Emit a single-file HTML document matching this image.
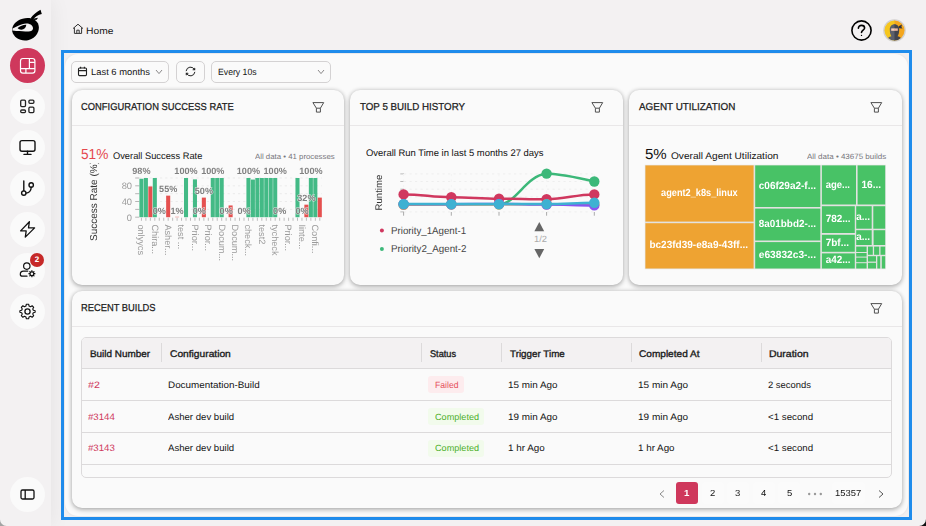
<!DOCTYPE html>
<html>
<head>
<meta charset="utf-8">
<title>Home</title>
<style>
*{box-sizing:border-box;margin:0;padding:0}
html,body{width:926px;height:526px;overflow:hidden}
body{font-family:"Liberation Sans",sans-serif;background:#f3f1f2;color:#222;position:relative;font-size:10px;text-rendering:geometricPrecision}
.abs{position:absolute}
#side{position:absolute;left:0;top:0;width:51px;height:526px;background:#f3f1f2;box-shadow:0 0 22px rgba(0,0,0,.065)}
.nav{position:absolute;left:10px;width:35px;height:35px;border-radius:50%;background:#fafafa}
.nav svg{position:absolute;left:0;top:0}
.nav.act{background:#cf385c}
#frame{position:absolute;left:61px;top:50px;width:851px;height:470px;border:3px solid #1f8cec;background:#f1eff0}
#panel{position:absolute;left:1px;top:1px;width:843px;height:462px;border-radius:13px;background:#fafafa;box-shadow:0 0 3px rgba(0,0,0,.07)}
.card{position:absolute;background:#fafafa;border-radius:10px;box-shadow:0 2px 5px rgba(0,0,0,.24),0 0 4px rgba(0,0,0,.17)}
.cdiv{position:absolute;left:0;right:0;top:35px;height:1px;background:#e9e7e8}
.filt{position:absolute;width:13px;height:13px}
.btn{position:absolute;top:61px;height:22px;border:1px solid #d4d2d3;border-radius:5px;background:#fafafa}
.t{position:absolute;white-space:pre;line-height:12px;height:12px;transform-origin:0 0}
.sep{position:absolute;top:343px;width:1px;height:19px;background:#dcdadb}
.hr{position:absolute;left:82px;width:809px;height:1px;background:#dcdadb}
.badge{position:absolute;border-radius:3px}
.pg{position:absolute;top:482px;width:22px;height:22px;border-radius:3px;background:#fbfbfb}
#ov{position:absolute;left:0;top:0;will-change:transform}
#ov text{font-family:"Liberation Sans",sans-serif}
</style>
</head>
<body>
<div id="side"></div>

<svg class="abs" style="left:8px;top:6px" width="38" height="38" viewBox="0 0 38 38">
  <g fill="#000">
    <path d="M22.4 12.6 C25.2 8.6 28.6 5.8 32.5 3.8 L33.8 8.1 C30 9 27.4 10.8 25.2 13.4 Z"/>
    <path d="M25 12.8 L30 11.7 L28.7 13.7 L25.6 13.9 Z"/>
    <path d="M4.3 25.6 C3.2 19.8 7.6 14.6 14.6 12.7 C21.8 10.8 28.8 13.2 30.5 18.9 C32.2 24.8 28 32 20.8 34 C13.4 36 5.6 32 4.3 25.6 Z"/>
  </g>
  <path d="M4.6 22.6 L9.8 19.9 C11.4 19.1 12.8 18.6 14.1 18.2 C15.6 17.7 17 17.4 18.4 17.4 C20.2 17.4 21.6 17.8 22.7 18.5 C24 19.4 24.8 20.6 25 22 C25.1 23.2 24.6 24.2 23.6 24.8 C22.6 25.4 21.4 25.6 19.6 25.5 C17 25.3 11 24.8 8.1 24.9 C6.8 24.9 5.8 24.8 4.4 24.6 Z" fill="#f4f2f3"/>
  <path d="M9.6 22 C11.2 20.6 12.6 19.9 14.1 19.4 C15.6 18.9 16.9 18.7 18.3 18.8 C18.1 20.4 17.6 21.5 16.8 22.3 C15.9 23.1 14.7 23.6 13.3 23.7 C11.8 23.6 10.5 23 9.6 22 Z" fill="#000"/>
</svg>

<div class="nav act" style="top:48px">
  <svg width="35" height="35" viewBox="0 0 35 35" fill="none" stroke="#fff" stroke-width="1.2">
    <rect x="10.5" y="10.5" width="14.4" height="14.6" rx="2.4"/>
    <path d="M19.4 10.5V20.6M10.5 20.6H24.9M15.9 20.6V25.1M19.4 14.3H24.9"/>
  </svg>
</div>
<div class="nav" style="top:89px">
  <svg width="35" height="35" viewBox="0 0 35 35" fill="none" stroke="#222" stroke-width="1.3">
    <rect x="10.7" y="11.2" width="4.8" height="6.4" rx="1.1"/>
    <rect x="18.9" y="11.2" width="5" height="3.2" rx="1.1"/>
    <rect x="10.7" y="21" width="4.8" height="2.6" rx="1.1"/>
    <rect x="18.9" y="18.2" width="5" height="5.4" rx="1.1"/>
  </svg>
</div>
<div class="nav" style="top:130px">
  <svg width="35" height="35" viewBox="0 0 35 35" fill="none" stroke="#111" stroke-width="1.4" stroke-linecap="round">
    <rect x="10" y="10.6" width="15" height="10.6" rx="2"/>
    <path d="M17.5 21.2V24.2M14 24.4H21"/>
  </svg>
</div>
<div class="nav" style="top:171px">
  <svg width="35" height="35" viewBox="0 0 35 35" fill="none" stroke="#111" stroke-width="1.4" stroke-linecap="round">
    <path d="M13.8 10V19.8"/>
    <circle cx="13.8" cy="22.1" r="2.2"/>
    <circle cx="21.2" cy="14" r="2.2"/>
    <path d="M21.2 16.3C21.2 19.9 18.6 21.9 16.1 22.1"/>
  </svg>
</div>
<div class="nav" style="top:212px">
  <svg width="35" height="35" viewBox="0 0 35 35" fill="none" stroke="#111" stroke-width="1.3" stroke-linejoin="round">
    <path d="M19.4 9.7L10.6 18.9H16.2L15.3 25.1L24.6 15.9H18.5Z"/>
  </svg>
</div>
<div class="nav" style="top:253px">
  <svg width="35" height="35" viewBox="0 0 35 35" fill="none" stroke="#111" stroke-width="1.2" stroke-linecap="round">
    <circle cx="16.8" cy="13.1" r="3.2"/>
    <path d="M17 23.2H12.4C11 23.2 10.3 22.4 10.3 21.2C10.3 19.4 11.6 18.1 13.4 18.1H17.8"/>
    <circle cx="21.9" cy="20.7" r="1.9"/>
    <path d="M21.9 17.7V18.5M21.9 22.9V23.7M18.9 20.7H19.7M24.1 20.7H24.9M19.8 18.6L20.3 19.1M23.5 22.3L24 22.8M19.8 22.8L20.3 22.3M23.5 19.1L24 18.6" stroke-width="1.2"/>
  </svg>
  <div class="abs" style="left:20px;top:0px;width:14px;height:14px;border-radius:50%;background:#c62828;color:#fff;font-size:8px;font-weight:bold;text-align:center;line-height:14px">2</div>
</div>
<div class="nav" style="top:294px">
  <svg width="35" height="35" viewBox="0 0 35 35" fill="none" stroke="#111" stroke-width="1.3" stroke-linejoin="round">
    <circle cx="17.5" cy="17.5" r="2.6"/>
    <path d="M16.2 10H18.8L19.3 12.1L21 12.9L22.9 11.8L24.7 13.6L23.6 15.5L24.3 17.1L26.4 17.6V19.4L24.3 19.9L23.6 21.5L24.7 23.4L22.9 25.2L21 24.1L19.3 24.9L18.8 27H16.2L15.7 24.9L14 24.1L12.1 25.2L10.3 23.4L11.4 21.5L10.7 19.9L8.6 19.4V17.6L10.7 17.1L11.4 15.5L10.3 13.6L12.1 11.8L14 12.9L15.7 12.1Z" transform="translate(17.5 17.5) scale(.86) translate(-17.5 -18.5)"/>
  </svg>
</div>
<div class="nav" style="top:477px">
  <svg width="35" height="35" viewBox="0 0 35 35" fill="none" stroke="#111" stroke-width="1.3">
    <rect x="11" y="13" width="13" height="9" rx="1.5"/>
    <path d="M15.2 13V22"/>
  </svg>
</div>

<svg class="abs" style="left:72px;top:23px" width="12" height="12" viewBox="0 0 12 12" fill="none" stroke="#333" stroke-width="1">
  <path d="M1 5.6L6 1.2L11 5.6M2.4 4.6V10.4H9.6V4.6M4.8 10.4V7.2H7.2V10.4"/>
</svg>

<div class="t" style="left:85.77px;top:25px;font-size:9.3px;color:#141414;transform:scaleX(1.1066);">Home</div>

<svg class="abs" style="left:850px;top:19px" width="23" height="23" viewBox="0 0 23 23" fill="none" stroke="#000" stroke-width="1.6" stroke-linecap="round">
  <circle cx="11.5" cy="11.5" r="9.6"/>
  <path d="M8.4 9.2C8.4 7.4 9.8 6.4 11.5 6.4C13.2 6.4 14.6 7.4 14.6 9C14.6 11 11.5 11.2 11.5 13.4"/>
  <circle cx="11.5" cy="16.4" r=".7" fill="#000" stroke="none"/>
</svg>
<svg class="abs" style="left:883px;top:19px" width="23" height="23" viewBox="0 0 23 23">
  <defs><clipPath id="av"><circle cx="11.5" cy="11.5" r="10"/></clipPath></defs>
  <circle cx="11.5" cy="11.5" r="11.3" fill="#d2d0cf"/>
  <g clip-path="url(#av)">
    <rect x="0" y="0" width="12" height="23" fill="#f6c61d"/>
    <rect x="11.5" y="0" width="11.5" height="23" fill="#f4a61d"/>
    <path d="M6.8 10.4C6.8 7.4 8.8 5.2 11.5 5.2H12V23H3.8C3.8 19.6 5.6 17.8 8.4 17.2C7.2 15.4 6.8 13 6.8 10.4Z" fill="#5b5f6b"/>
    <path d="M16.2 10.4C16.2 7.4 14.2 5.2 11.5 5.2V23H19.2C19.2 19.6 17.4 17.8 14.6 17.2C15.8 15.4 16.2 13 16.2 10.4Z" fill="#41444e"/>
    <path d="M15.6 7.2L19 5.6L18.4 8L19.6 9.6L16 9.2Z" fill="#33353d"/>
    <rect x="8.2" y="9.4" width="3.6" height="2.4" fill="#f9cdb5"/>
    <rect x="11.5" y="9.4" width="3.3" height="2.4" fill="#f2b9a0"/>
  </g>
</svg>

<div id="frame"><div id="panel"></div></div>

<div class="btn" style="left:71px;width:98px"></div>
<svg class="abs" style="left:77px;top:66px" width="11" height="11" viewBox="0 0 11 11" fill="none" stroke="#222" stroke-width="1.1">
  <rect x="1.5" y="2" width="8" height="7.6" rx="1"/><path d="M1.5 4.6H9.5M3.6 .8V2.6M7.4 .8V2.6"/>
</svg>
<div class="t" style="left:91.29px;top:66px;font-size:9.1px;color:#141414;transform:scaleX(1.0319);">Last 6 months</div>
<svg class="abs" style="left:155px;top:69px" width="8" height="6" viewBox="0 0 8 6" fill="none" stroke="#8a8889" stroke-width="1"><path d="M1 1L4 4.6L7 1"/></svg>
<div class="btn" style="left:176px;width:29px"></div>
<svg class="abs" style="left:184.1px;top:65.2px" width="13" height="13" viewBox="0 0 13 13" fill="none" stroke="#222" stroke-width="1" stroke-linecap="round">
  <path d="M2.17 5.74A4.4 4.4 0 0 1 10.49 4.64M10.83 7.26A4.4 4.4 0 0 1 2.51 8.36"/>
  <path d="M10.7 3.2V4.8H9.1M2.3 9.8V8.2H3.9" stroke-width="1.1"/>
</svg>
<div class="btn" style="left:211px;width:120px"></div>
<div class="t" style="left:218.31px;top:66px;font-size:9.1px;color:#141414;transform:scaleX(0.9554);">Every 10s</div>
<svg class="abs" style="left:317px;top:69px" width="8" height="6" viewBox="0 0 8 6" fill="none" stroke="#8a8889" stroke-width="1"><path d="M1 1L4 4.6L7 1"/></svg>
<div class="card" style="left:72px;top:90px;width:272px;height:195px"><div class="cdiv"></div></div>
<div class="card" style="left:350px;top:90px;width:273px;height:195px"><div class="cdiv"></div></div>
<div class="card" style="left:629px;top:90px;width:273px;height:195px"><div class="cdiv"></div></div>
<div class="card" style="left:72px;top:291px;width:830px;height:217px"><div class="cdiv"></div></div>
<div class="t" style="left:80.72px;top:102px;font-size:10.05px;color:#1c1c1c;transform:scaleX(0.9327);-webkit-text-stroke:.25px #1c1c1c;">CONFIGURATION SUCCESS RATE</div>
<div class="t" style="left:359.71px;top:102px;font-size:10.05px;color:#1c1c1c;transform:scaleX(0.9711);-webkit-text-stroke:.25px #1c1c1c;">TOP 5 BUILD HISTORY</div>
<div class="t" style="left:639.10px;top:102px;font-size:10.05px;color:#1c1c1c;transform:scaleX(0.9846);-webkit-text-stroke:.25px #1c1c1c;">AGENT UTILIZATION</div>
<div class="t" style="left:81.02px;top:303px;font-size:10.05px;color:#1c1c1c;transform:scaleX(0.9295);-webkit-text-stroke:.25px #1c1c1c;">RECENT BUILDS</div>
<svg class="filt" style="left:312.4px;top:101px" viewBox="0 0 13 13" fill="none" stroke="#505050" stroke-width="1" stroke-linejoin="round"><path d="M.9 1.6H11.7L8.4 7.2V11.1H4.4V7.2ZM4.4 7.2H8.4"/></svg>
<svg class="filt" style="left:591px;top:101px" viewBox="0 0 13 13" fill="none" stroke="#505050" stroke-width="1" stroke-linejoin="round"><path d="M.9 1.6H11.7L8.4 7.2V11.1H4.4V7.2ZM4.4 7.2H8.4"/></svg>
<svg class="filt" style="left:870px;top:101px" viewBox="0 0 13 13" fill="none" stroke="#505050" stroke-width="1" stroke-linejoin="round"><path d="M.9 1.6H11.7L8.4 7.2V11.1H4.4V7.2ZM4.4 7.2H8.4"/></svg>
<svg class="filt" style="left:870px;top:302px" viewBox="0 0 13 13" fill="none" stroke="#505050" stroke-width="1" stroke-linejoin="round"><path d="M.9 1.6H11.7L8.4 7.2V11.1H4.4V7.2ZM4.4 7.2H8.4"/></svg>
<div class="t" style="left:81.09px;top:149px;font-size:14.6px;color:#e5484d;transform:scaleX(0.9343);">51%</div>
<div class="t" style="left:113.31px;top:151px;font-size:9.5px;color:#141414;transform:scaleX(0.9779);">Overall Success Rate</div>
<div class="t" style="left:254.59px;top:151px;font-size:7.6px;color:#77767c;transform:scaleX(1.0301);">All data • 41 processes</div>
<div class="t" style="left:366.10px;top:148px;font-size:9.5px;color:#111;transform:scaleX(0.9944);">Overall Run Time in last 5 months 27 days</div>
<div class="t" style="left:390.94px;top:226px;font-size:10px;color:#444;transform:scaleX(0.9721);">Priority_1Agent-1</div>
<div class="t" style="left:390.93px;top:244px;font-size:10px;color:#444;transform:scaleX(0.9775);">Priority2_Agent-2</div>
<div class="t" style="left:533.79px;top:233px;font-size:9px;color:#aaa;transform:scaleX(1.0439);">1/2</div>
<div class="t" style="left:644.96px;top:149px;font-size:14.6px;color:#111;transform:scaleX(1.0309);">5%</div>
<div class="t" style="left:671.28px;top:151px;font-size:9.5px;color:#141414;transform:scaleX(1.0647);">Overall Agent Utilization</div>
<div class="t" style="left:806.58px;top:151px;font-size:7.6px;color:#77767c;transform:scaleX(1.0524);">All data • 43675 builds</div>
<svg id="ov" width="926" height="526" viewBox="0 0 926 526"><path d="M139.2 209.4H322.0" stroke="#ebebeb" stroke-width="1" stroke-dasharray="2.2 3"/>
<path d="M139.2 201.5H322.0" stroke="#ebebeb" stroke-width="1" stroke-dasharray="2.2 3"/>
<path d="M139.2 193.7H322.0" stroke="#ebebeb" stroke-width="1" stroke-dasharray="2.2 3"/>
<path d="M139.2 185.8H322.0" stroke="#ebebeb" stroke-width="1" stroke-dasharray="2.2 3"/>
<path d="M139.2 178.0H322.0" stroke="#ebebeb" stroke-width="1" stroke-dasharray="2.2 3"/>
<path d="M135.2 217.2H139.2" stroke="#b5b5b5" stroke-width="1"/>
<path d="M135.2 209.4H139.2" stroke="#b5b5b5" stroke-width="1"/>
<path d="M135.2 201.5H139.2" stroke="#b5b5b5" stroke-width="1"/>
<path d="M135.2 193.7H139.2" stroke="#b5b5b5" stroke-width="1"/>
<path d="M135.2 185.8H139.2" stroke="#b5b5b5" stroke-width="1"/>
<path d="M135.2 178.0H139.2" stroke="#b5b5b5" stroke-width="1"/>
<text x="132" y="220.5" text-anchor="end" font-size="9.3" fill="#9a9a9a">0</text>
<text x="132" y="204.8" text-anchor="end" font-size="9.3" fill="#9a9a9a">40</text>
<text x="132" y="189.1" text-anchor="end" font-size="9.3" fill="#9a9a9a">80</text>
<path d="M141.43 217.7V220.79999999999998" stroke="#bdbdbd" stroke-width="1"/>
<path d="M145.89 217.7V220.79999999999998" stroke="#bdbdbd" stroke-width="1"/>
<path d="M150.35 217.7V220.79999999999998" stroke="#bdbdbd" stroke-width="1"/>
<path d="M154.81 217.7V220.79999999999998" stroke="#bdbdbd" stroke-width="1"/>
<path d="M159.27 217.7V220.79999999999998" stroke="#bdbdbd" stroke-width="1"/>
<path d="M163.72 217.7V220.79999999999998" stroke="#bdbdbd" stroke-width="1"/>
<path d="M168.18 217.7V220.79999999999998" stroke="#bdbdbd" stroke-width="1"/>
<path d="M172.64 217.7V220.79999999999998" stroke="#bdbdbd" stroke-width="1"/>
<path d="M177.10 217.7V220.79999999999998" stroke="#bdbdbd" stroke-width="1"/>
<path d="M181.56 217.7V220.79999999999998" stroke="#bdbdbd" stroke-width="1"/>
<path d="M186.02 217.7V220.79999999999998" stroke="#bdbdbd" stroke-width="1"/>
<path d="M190.48 217.7V220.79999999999998" stroke="#bdbdbd" stroke-width="1"/>
<path d="M194.94 217.7V220.79999999999998" stroke="#bdbdbd" stroke-width="1"/>
<path d="M199.40 217.7V220.79999999999998" stroke="#bdbdbd" stroke-width="1"/>
<path d="M203.86 217.7V220.79999999999998" stroke="#bdbdbd" stroke-width="1"/>
<path d="M208.31 217.7V220.79999999999998" stroke="#bdbdbd" stroke-width="1"/>
<path d="M212.77 217.7V220.79999999999998" stroke="#bdbdbd" stroke-width="1"/>
<path d="M217.23 217.7V220.79999999999998" stroke="#bdbdbd" stroke-width="1"/>
<path d="M221.69 217.7V220.79999999999998" stroke="#bdbdbd" stroke-width="1"/>
<path d="M226.15 217.7V220.79999999999998" stroke="#bdbdbd" stroke-width="1"/>
<path d="M230.61 217.7V220.79999999999998" stroke="#bdbdbd" stroke-width="1"/>
<path d="M235.07 217.7V220.79999999999998" stroke="#bdbdbd" stroke-width="1"/>
<path d="M239.53 217.7V220.79999999999998" stroke="#bdbdbd" stroke-width="1"/>
<path d="M243.99 217.7V220.79999999999998" stroke="#bdbdbd" stroke-width="1"/>
<path d="M248.45 217.7V220.79999999999998" stroke="#bdbdbd" stroke-width="1"/>
<path d="M252.90 217.7V220.79999999999998" stroke="#bdbdbd" stroke-width="1"/>
<path d="M257.36 217.7V220.79999999999998" stroke="#bdbdbd" stroke-width="1"/>
<path d="M261.82 217.7V220.79999999999998" stroke="#bdbdbd" stroke-width="1"/>
<path d="M266.28 217.7V220.79999999999998" stroke="#bdbdbd" stroke-width="1"/>
<path d="M270.74 217.7V220.79999999999998" stroke="#bdbdbd" stroke-width="1"/>
<path d="M275.20 217.7V220.79999999999998" stroke="#bdbdbd" stroke-width="1"/>
<path d="M279.66 217.7V220.79999999999998" stroke="#bdbdbd" stroke-width="1"/>
<path d="M284.12 217.7V220.79999999999998" stroke="#bdbdbd" stroke-width="1"/>
<path d="M288.58 217.7V220.79999999999998" stroke="#bdbdbd" stroke-width="1"/>
<path d="M293.04 217.7V220.79999999999998" stroke="#bdbdbd" stroke-width="1"/>
<path d="M297.49 217.7V220.79999999999998" stroke="#bdbdbd" stroke-width="1"/>
<path d="M301.95 217.7V220.79999999999998" stroke="#bdbdbd" stroke-width="1"/>
<path d="M306.41 217.7V220.79999999999998" stroke="#bdbdbd" stroke-width="1"/>
<path d="M310.87 217.7V220.79999999999998" stroke="#bdbdbd" stroke-width="1"/>
<path d="M315.33 217.7V220.79999999999998" stroke="#bdbdbd" stroke-width="1"/>
<path d="M319.79 217.7V220.79999999999998" stroke="#bdbdbd" stroke-width="1"/>
<rect x="139.40" y="178.78" width="4.06" height="38.42" fill="#43ba86"/>
<rect x="143.86" y="178.00" width="4.06" height="39.20" fill="#43ba86"/>
<rect x="148.32" y="186.43" width="4.06" height="30.77" fill="#e5504f"/>
<rect x="152.78" y="178.00" width="4.06" height="39.20" fill="#43ba86"/>
<rect x="166.15" y="195.64" width="4.06" height="21.56" fill="#e5504f"/>
<rect x="175.07" y="216.81" width="4.06" height="0.39" fill="#e5504f"/>
<rect x="183.99" y="178.00" width="4.06" height="39.20" fill="#43ba86"/>
<rect x="192.91" y="179.37" width="4.06" height="37.83" fill="#43ba86"/>
<rect x="201.83" y="197.60" width="4.06" height="19.60" fill="#e5504f"/>
<rect x="210.74" y="178.00" width="4.06" height="39.20" fill="#43ba86"/>
<rect x="215.20" y="178.00" width="4.06" height="39.20" fill="#43ba86"/>
<rect x="219.66" y="178.00" width="4.06" height="39.20" fill="#43ba86"/>
<rect x="228.58" y="205.44" width="4.06" height="11.76" fill="#e5504f"/>
<rect x="246.42" y="178.00" width="4.06" height="39.20" fill="#43ba86"/>
<rect x="250.87" y="179.57" width="4.06" height="37.63" fill="#43ba86"/>
<rect x="255.33" y="178.00" width="4.06" height="39.20" fill="#43ba86"/>
<rect x="259.79" y="178.00" width="4.06" height="39.20" fill="#43ba86"/>
<rect x="264.25" y="178.00" width="4.06" height="39.20" fill="#43ba86"/>
<rect x="268.71" y="178.00" width="4.06" height="39.20" fill="#43ba86"/>
<rect x="273.17" y="178.00" width="4.06" height="39.20" fill="#43ba86"/>
<rect x="295.46" y="178.00" width="4.06" height="39.20" fill="#43ba86"/>
<rect x="304.38" y="204.66" width="4.06" height="12.54" fill="#e5504f"/>
<rect x="308.84" y="178.00" width="4.06" height="39.20" fill="#43ba86"/>
<rect x="313.30" y="178.00" width="4.06" height="39.20" fill="#43ba86"/>
<rect x="317.76" y="197.60" width="4.06" height="19.60" fill="#e5504f"/>
<text x="141.4" y="174.4" text-anchor="middle" font-size="9.1" font-weight="bold" fill="#808080" stroke="#fafafa" stroke-width="1" paint-order="stroke" stroke-opacity=".75">98%</text>
<text x="159.3" y="213.6" text-anchor="middle" font-size="9.1" font-weight="bold" fill="#808080" stroke="#fafafa" stroke-width="1" paint-order="stroke" stroke-opacity=".75">0%</text>
<text x="168.2" y="192.0" text-anchor="middle" font-size="9.1" font-weight="bold" fill="#808080" stroke="#fafafa" stroke-width="1" paint-order="stroke" stroke-opacity=".75">55%</text>
<text x="177.1" y="213.6" text-anchor="middle" font-size="9.1" font-weight="bold" fill="#808080" stroke="#fafafa" stroke-width="1" paint-order="stroke" stroke-opacity=".75">1%</text>
<text x="186.0" y="174.4" text-anchor="middle" font-size="9.1" font-weight="bold" fill="#808080" stroke="#fafafa" stroke-width="1" paint-order="stroke" stroke-opacity=".75">100%</text>
<text x="199.4" y="213.6" text-anchor="middle" font-size="9.1" font-weight="bold" fill="#808080" stroke="#fafafa" stroke-width="1" paint-order="stroke" stroke-opacity=".75">0%</text>
<text x="203.9" y="194.0" text-anchor="middle" font-size="9.1" font-weight="bold" fill="#808080" stroke="#fafafa" stroke-width="1" paint-order="stroke" stroke-opacity=".75">50%</text>
<text x="212.8" y="174.4" text-anchor="middle" font-size="9.1" font-weight="bold" fill="#808080" stroke="#fafafa" stroke-width="1" paint-order="stroke" stroke-opacity=".75">100%</text>
<text x="226.2" y="213.6" text-anchor="middle" font-size="9.1" font-weight="bold" fill="#808080" stroke="#fafafa" stroke-width="1" paint-order="stroke" stroke-opacity=".75">0%</text>
<text x="244.0" y="213.6" text-anchor="middle" font-size="9.1" font-weight="bold" fill="#808080" stroke="#fafafa" stroke-width="1" paint-order="stroke" stroke-opacity=".75">0%</text>
<text x="248.4" y="174.4" text-anchor="middle" font-size="9.1" font-weight="bold" fill="#808080" stroke="#fafafa" stroke-width="1" paint-order="stroke" stroke-opacity=".75">100%</text>
<text x="275.2" y="174.4" text-anchor="middle" font-size="9.1" font-weight="bold" fill="#808080" stroke="#fafafa" stroke-width="1" paint-order="stroke" stroke-opacity=".75">100%</text>
<text x="279.7" y="213.6" text-anchor="middle" font-size="9.1" font-weight="bold" fill="#808080" stroke="#fafafa" stroke-width="1" paint-order="stroke" stroke-opacity=".75">0%</text>
<text x="302.0" y="213.6" text-anchor="middle" font-size="9.1" font-weight="bold" fill="#808080" stroke="#fafafa" stroke-width="1" paint-order="stroke" stroke-opacity=".75">0%</text>
<text x="306.4" y="201.1" text-anchor="middle" font-size="9.1" font-weight="bold" fill="#808080" stroke="#fafafa" stroke-width="1" paint-order="stroke" stroke-opacity=".75">32%</text>
<text x="310.9" y="174.4" text-anchor="middle" font-size="9.1" font-weight="bold" fill="#808080" stroke="#fafafa" stroke-width="1" paint-order="stroke" stroke-opacity=".75">100%</text>
<text transform="translate(138.2 224.4) rotate(90)" font-size="9.2" fill="#9a9a9a">onlyycs</text>
<text transform="translate(151.6 224.4) rotate(90)" font-size="9.2" fill="#9a9a9a">Chira...</text>
<text transform="translate(165.0 224.4) rotate(90)" font-size="9.2" fill="#9a9a9a">Asher...</text>
<text transform="translate(178.4 224.4) rotate(90)" font-size="9.2" fill="#9a9a9a">test ...</text>
<text transform="translate(191.7 224.4) rotate(90)" font-size="9.2" fill="#9a9a9a">Prior...</text>
<text transform="translate(205.1 224.4) rotate(90)" font-size="9.2" fill="#9a9a9a">Prior...</text>
<text transform="translate(218.5 224.4) rotate(90)" font-size="9.2" fill="#9a9a9a">Docum...</text>
<text transform="translate(231.9 224.4) rotate(90)" font-size="9.2" fill="#9a9a9a">Docum...</text>
<text transform="translate(245.2 224.4) rotate(90)" font-size="9.2" fill="#9a9a9a">check...</text>
<text transform="translate(258.6 224.4) rotate(90)" font-size="9.2" fill="#9a9a9a">test2</text>
<text transform="translate(272.0 224.4) rotate(90)" font-size="9.2" fill="#9a9a9a">tycheck</text>
<text transform="translate(285.4 224.4) rotate(90)" font-size="9.2" fill="#9a9a9a">Prior...</text>
<text transform="translate(298.8 224.4) rotate(90)" font-size="9.2" fill="#9a9a9a">Iinte...</text>
<text transform="translate(312.1 224.4) rotate(90)" font-size="9.2" fill="#9a9a9a">Confi...</text>
<defs><clipPath id="cl1"><rect x="80" y="163.3" width="260" height="110"/></clipPath></defs><g clip-path="url(#cl1)"><text transform="translate(96.6 201) rotate(-90)" text-anchor="middle" font-size="10" fill="#333">Success Rate (%)</text></g>
<path d="M404 173.9H596" stroke="#eeeeee" stroke-width="1" stroke-dasharray="2.2 3.3"/>
<path d="M400.3 173.9H404" stroke="#bbb" stroke-width="1"/>
<path d="M404 181.5H596" stroke="#eeeeee" stroke-width="1" stroke-dasharray="2.2 3.3"/>
<path d="M400.3 181.5H404" stroke="#bbb" stroke-width="1"/>
<path d="M404 189.2H596" stroke="#eeeeee" stroke-width="1" stroke-dasharray="2.2 3.3"/>
<path d="M400.3 189.2H404" stroke="#bbb" stroke-width="1"/>
<path d="M404 196.9H596" stroke="#eeeeee" stroke-width="1" stroke-dasharray="2.2 3.3"/>
<path d="M400.3 196.9H404" stroke="#bbb" stroke-width="1"/>
<path d="M404 204.5H596" stroke="#eeeeee" stroke-width="1" stroke-dasharray="2.2 3.3"/>
<path d="M400.3 204.5H404" stroke="#bbb" stroke-width="1"/>
<path d="M404 211.9H596" stroke="#eeeeee" stroke-width="1" stroke-dasharray="2.2 3.3"/>
<path d="M400.3 211.9H404" stroke="#bbb" stroke-width="1"/>
<path d="M403.6 174V212" stroke="#f3f3f3" stroke-width="1" stroke-dasharray="2.2 3.3"/>
<path d="M403.6 212V215.7" stroke="#aaa" stroke-width="1"/>
<path d="M451.3 174V212" stroke="#f3f3f3" stroke-width="1" stroke-dasharray="2.2 3.3"/>
<path d="M451.3 212V215.7" stroke="#aaa" stroke-width="1"/>
<path d="M499.0 174V212" stroke="#f3f3f3" stroke-width="1" stroke-dasharray="2.2 3.3"/>
<path d="M499.0 212V215.7" stroke="#aaa" stroke-width="1"/>
<path d="M546.6 174V212" stroke="#f3f3f3" stroke-width="1" stroke-dasharray="2.2 3.3"/>
<path d="M546.6 212V215.7" stroke="#aaa" stroke-width="1"/>
<path d="M594.3 174V212" stroke="#f3f3f3" stroke-width="1" stroke-dasharray="2.2 3.3"/>
<path d="M594.3 212V215.7" stroke="#aaa" stroke-width="1"/>
<path d="M403.6 204.2L499.0 204.2C516.0 204.2 525.6 176 546.6 173.6C561.6 174.2 577.3 177.6 594.3 181.5" fill="none" stroke="#3cb879" stroke-width="2.5" stroke-linecap="round"/>
<circle cx="403.6" cy="204.2" r="5.2" fill="#3cb879"/>
<circle cx="451.3" cy="204.2" r="5.2" fill="#3cb879"/>
<circle cx="499.0" cy="204.2" r="5.2" fill="#3cb879"/>
<circle cx="546.6" cy="173.6" r="5.2" fill="#3cb879"/>
<circle cx="594.3" cy="181.5" r="5.2" fill="#3cb879"/>
<path d="M403.6 194.4C423.6 194.4 431.3 197.3 451.3 197.3C471.3 197.3 479.0 198.7 499.0 198.7C519.0 198.7 526.6 199.3 546.6 199.3C566.6 199.3 574.3 194.4 594.3 194.4" fill="none" stroke="#d0385f" stroke-width="2.5" stroke-linecap="round"/>
<circle cx="403.6" cy="194.4" r="5.2" fill="#d0385f"/>
<circle cx="451.3" cy="197.3" r="5.2" fill="#d0385f"/>
<circle cx="499.0" cy="198.7" r="5.2" fill="#d0385f"/>
<circle cx="546.6" cy="199.3" r="5.2" fill="#d0385f"/>
<circle cx="594.3" cy="194.4" r="5.2" fill="#d0385f"/>
<path d="M403.6 204.8C423.6 204.8 431.3 204.3 451.3 204.3C471.3 204.3 479.0 204.2 499.0 204.2C519.0 204.2 526.6 204.2 546.6 204.2C566.6 204.2 574.3 204.2 594.3 204.2" fill="none" stroke="#e6b93a" stroke-width="2.5" stroke-linecap="round"/>
<circle cx="403.6" cy="204.8" r="5.2" fill="#e6b93a"/>
<circle cx="451.3" cy="204.3" r="5.2" fill="#e6b93a"/>
<circle cx="499.0" cy="204.2" r="5.2" fill="#e6b93a"/>
<circle cx="546.6" cy="204.2" r="5.2" fill="#e6b93a"/>
<circle cx="594.3" cy="204.2" r="5.2" fill="#e6b93a"/>
<path d="M403.6 204.2C423.6 204.2 431.3 204.2 451.3 204.2C471.3 204.2 479.0 204.0 499.0 204.0C519.0 204.0 526.6 204.6 546.6 204.6C566.6 204.6 574.3 205.4 594.3 205.4" fill="none" stroke="#8a55f0" stroke-width="2.5" stroke-linecap="round"/>
<circle cx="403.6" cy="204.2" r="5.2" fill="#8a55f0"/>
<circle cx="451.3" cy="204.2" r="5.2" fill="#8a55f0"/>
<circle cx="499.0" cy="204.0" r="5.2" fill="#8a55f0"/>
<circle cx="546.6" cy="204.6" r="5.2" fill="#8a55f0"/>
<circle cx="594.3" cy="205.4" r="5.2" fill="#8a55f0"/>
<path d="M403.6 204.1C423.6 204.1 431.3 204.1 451.3 204.1C471.3 204.1 479.0 204.1 499.0 204.1C519.0 204.1 526.6 204.1 546.6 204.1C566.6 204.1 574.3 202.8 594.3 202.8" fill="none" stroke="#3eb1d2" stroke-width="2.5" stroke-linecap="round"/>
<circle cx="403.6" cy="204.1" r="5.2" fill="#3eb1d2"/>
<circle cx="451.3" cy="204.1" r="5.2" fill="#3eb1d2"/>
<circle cx="499.0" cy="204.1" r="5.2" fill="#3eb1d2"/>
<circle cx="546.6" cy="204.1" r="5.2" fill="#3eb1d2"/>
<circle cx="594.3" cy="202.8" r="5.2" fill="#3eb1d2"/>
<text transform="translate(381.6 192.6) rotate(-90)" text-anchor="middle" font-size="9.6" fill="#333">Runtime</text>
<circle cx="381.9" cy="230.6" r="2" fill="#d0385f"/><circle cx="381.9" cy="248.9" r="2" fill="#3cb879"/>
<path d="M539.3 222L544.2 231.2H534.4Z" fill="#666"/><path d="M539.3 258.2L544.2 249H534.4Z" fill="#666"/>
<rect x="644.8" y="164.8" width="241" height="104.4" fill="#e2e2e0"/>
<rect x="645.4" y="165.4" width="108.2" height="56.2" fill="#eea332"/>
<rect x="645.4" y="223.2" width="108.2" height="45.3" fill="#eea332"/>
<rect x="755.2" y="165.4" width="65.1" height="41.6" fill="#48c266"/>
<rect x="755.2" y="208.6" width="65.1" height="31.9" fill="#48c266"/>
<rect x="755.2" y="242.1" width="65.1" height="26.4" fill="#48c266"/>
<rect x="821.9" y="165.4" width="34.1" height="39.1" fill="#48c266"/>
<rect x="857.6" y="165.4" width="27.6" height="39.1" fill="#48c266"/>
<rect x="821.9" y="206.2" width="32.9" height="26.8" fill="#48c266"/>
<rect x="821.9" y="234.8" width="32.9" height="17.0" fill="#48c266"/>
<rect x="821.9" y="253.4" width="32.9" height="15.1" fill="#48c266"/>
<rect x="856.2" y="206.2" width="15.5" height="22.5" fill="#48c266"/>
<rect x="873.3" y="206.2" width="11.9" height="22.5" fill="#48c266"/>
<rect x="856.2" y="230.2" width="15.5" height="14.8" fill="#48c266"/>
<rect x="873.6" y="230.2" width="11.6" height="14.8" fill="#48c266"/>
<rect x="856.2" y="246.6" width="10.4" height="5.4" fill="#48c266"/>
<rect x="856.2" y="253.0" width="10.4" height="3.6" fill="#48c266"/>
<rect x="856.2" y="257.6" width="10.4" height="4.6" fill="#48c266"/>
<rect x="856.2" y="263.2" width="10.4" height="5.3" fill="#48c266"/>
<rect x="868.0" y="246.6" width="4.8" height="8.2" fill="#48c266"/>
<rect x="874.1" y="246.6" width="5.1" height="8.2" fill="#48c266"/>
<rect x="880.5" y="246.6" width="4.7" height="8.2" fill="#48c266"/>
<rect x="868.0" y="256.2" width="8.0" height="5.4" fill="#48c266"/>
<rect x="868.0" y="262.8" width="8.0" height="5.7" fill="#48c266"/>
<rect x="877.3" y="256.2" width="2.9" height="12.3" fill="#48c266"/>
<rect x="881.8" y="256.2" width="3.4" height="12.3" fill="#48c266"/>
<text x="661.1" y="195.9" font-size="10.4" font-weight="bold" fill="#fff" textLength="76.6" lengthAdjust="spacingAndGlyphs">agent2_k8s_linux</text>
<text x="649.4" y="248.0" font-size="10.4" font-weight="bold" fill="#fff" textLength="98.6" lengthAdjust="spacingAndGlyphs">bc23fd39-e8a9-43ff...</text>
<text x="758.8" y="189.2" font-size="10.4" font-weight="bold" fill="#fff" textLength="57.2" lengthAdjust="spacingAndGlyphs">c06f29a2-f...</text>
<text x="758.8" y="227.0" font-size="10.4" font-weight="bold" fill="#fff" textLength="57.2" lengthAdjust="spacingAndGlyphs">8a01bbd2-...</text>
<text x="758.8" y="258.0" font-size="10.4" font-weight="bold" fill="#fff" textLength="57.2" lengthAdjust="spacingAndGlyphs">e63832c3-...</text>
<text x="825.7" y="188.1" font-size="10.4" font-weight="bold" fill="#fff" textLength="24.3" lengthAdjust="spacingAndGlyphs">age...</text>
<text x="861.4" y="188.1" font-size="10.4" font-weight="bold" fill="#fff" textLength="19.7" lengthAdjust="spacingAndGlyphs">16...</text>
<text x="825.7" y="221.6" font-size="10.4" font-weight="bold" fill="#fff" textLength="24.9" lengthAdjust="spacingAndGlyphs">782...</text>
<text x="825.7" y="245.9" font-size="10.4" font-weight="bold" fill="#fff" textLength="23.3" lengthAdjust="spacingAndGlyphs">7bf...</text>
<text x="825.7" y="262.9" font-size="10.4" font-weight="bold" fill="#fff" textLength="24.9" lengthAdjust="spacingAndGlyphs">a42...</text>
<text x="856.2" y="220.2" font-size="10.4" font-weight="bold" fill="#fff" textLength="13.8" lengthAdjust="spacingAndGlyphs">a...</text>
<text x="856.2" y="240.2" font-size="10.4" font-weight="bold" fill="#fff" textLength="13.8" lengthAdjust="spacingAndGlyphs">a...</text></svg>
<div class="abs" style="left:81px;top:337px;width:811px;height:141px;border:1px solid #dcdadb;border-radius:5px;background:#fafafa;overflow:hidden"><div style="height:31px;background:#f3f1f2"></div></div>
<div class="hr" style="top:368px"></div>
<div class="hr" style="top:400px"></div>
<div class="hr" style="top:432px"></div>
<div class="hr" style="top:464px"></div>
<div class="sep" style="left:161px"></div>
<div class="sep" style="left:421px"></div>
<div class="sep" style="left:501px"></div>
<div class="sep" style="left:631px"></div>
<div class="sep" style="left:761px"></div>
<div class="t" style="left:90.09px;top:349px;font-size:9.6px;color:#1c1c1c;transform:scaleX(1.0325);-webkit-text-stroke:.35px #1c1c1c;">Build Number</div>
<div class="t" style="left:169.78px;top:349px;font-size:9.6px;color:#1c1c1c;transform:scaleX(1.0656);-webkit-text-stroke:.35px #1c1c1c;">Configuration</div>
<div class="t" style="left:429.61px;top:349px;font-size:9.6px;color:#1c1c1c;transform:scaleX(0.9562);-webkit-text-stroke:.35px #1c1c1c;">Status</div>
<div class="t" style="left:509.69px;top:349px;font-size:9.6px;color:#1c1c1c;transform:scaleX(1.0243);-webkit-text-stroke:.35px #1c1c1c;">Trigger Time</div>
<div class="t" style="left:639.38px;top:349px;font-size:9.6px;color:#1c1c1c;transform:scaleX(1.0505);-webkit-text-stroke:.35px #1c1c1c;">Completed At</div>
<div class="t" style="left:769.37px;top:349px;font-size:9.6px;color:#1c1c1c;transform:scaleX(1.0904);-webkit-text-stroke:.35px #1c1c1c;">Duration</div>
<div class="t" style="left:87.86px;top:379px;font-size:9.3px;color:#cf385c;transform:scaleX(1.1489);">#2</div>
<div class="t" style="left:168.28px;top:379px;font-size:9.3px;color:#141414;transform:scaleX(1.0621);">Documentation-Build</div>
<div class="badge" style="left:428.4px;top:376.2px;width:35.4px;height:17.2px;background:#fdecee"></div>
<div class="t" style="left:434.71px;top:379px;font-size:9px;color:#e5505c;transform:scaleX(0.9573);">Failed</div>
<div class="t" style="left:508.38px;top:379px;font-size:9.3px;color:#141414;transform:scaleX(1.0639);">15 min Ago</div>
<div class="t" style="left:637.98px;top:379px;font-size:9.3px;color:#141414;transform:scaleX(1.0793);">15 min Ago</div>
<div class="t" style="left:767.90px;top:379px;font-size:9.3px;color:#141414;transform:scaleX(1.0145);">2 seconds</div>
<div class="t" style="left:87.89px;top:411px;font-size:9.3px;color:#cf385c;transform:scaleX(1.0394);">#3144</div>
<div class="t" style="left:168.29px;top:411px;font-size:9.3px;color:#141414;transform:scaleX(1.0315);">Asher dev build</div>
<div class="badge" style="left:428.4px;top:408.1px;width:55.4px;height:17.2px;background:#f2fbec"></div>
<div class="t" style="left:434.70px;top:411px;font-size:9px;color:#4caf2a;transform:scaleX(1.0118);">Completed</div>
<div class="t" style="left:508.38px;top:411px;font-size:9.3px;color:#141414;transform:scaleX(1.0639);">19 min Ago</div>
<div class="t" style="left:637.98px;top:411px;font-size:9.3px;color:#141414;transform:scaleX(1.0793);">19 min Ago</div>
<div class="t" style="left:767.89px;top:411px;font-size:9.3px;color:#141414;transform:scaleX(1.0448);">&lt;1 second</div>
<div class="t" style="left:87.89px;top:442px;font-size:9.3px;color:#cf385c;transform:scaleX(1.0394);">#3143</div>
<div class="t" style="left:168.29px;top:442px;font-size:9.3px;color:#141414;transform:scaleX(1.0315);">Asher dev build</div>
<div class="badge" style="left:428.4px;top:439.8px;width:55.4px;height:17.2px;background:#f2fbec"></div>
<div class="t" style="left:434.70px;top:442px;font-size:9px;color:#4caf2a;transform:scaleX(1.0118);">Completed</div>
<div class="t" style="left:508.38px;top:442px;font-size:9.3px;color:#141414;transform:scaleX(1.0610);">1 hr Ago</div>
<div class="t" style="left:637.98px;top:442px;font-size:9.3px;color:#141414;transform:scaleX(1.0552);">1 hr Ago</div>
<div class="t" style="left:767.89px;top:442px;font-size:9.3px;color:#141414;transform:scaleX(1.0448);">&lt;1 second</div>
<svg class="abs" style="left:658px;top:489px" width="8" height="10" viewBox="0 0 8 10" fill="none" stroke="#8a8a8a" stroke-width="1"><path d="M6 1.5L2 5L6 8.5"/></svg>
<svg class="abs" style="left:877px;top:489px" width="8" height="10" viewBox="0 0 8 10" fill="none" stroke="#555" stroke-width="1"><path d="M2 1.5L6 5L2 8.5"/></svg>
<div class="pg" style="left:676px;background:#cf385c"></div>
<div class="pg" style="left:701.6px"></div>
<div class="pg" style="left:727.0px"></div>
<div class="pg" style="left:752.7px"></div>
<div class="pg" style="left:778.3px"></div>
<div class="pg" style="left:832px;width:33px"></div>
<div class="t" style="left:684.37px;top:487px;font-size:8.7px;color:#fff;font-weight:bold;transform:scaleX(1.1136);">1</div>
<div class="t" style="left:709.87px;top:487px;font-size:8.7px;color:#141414;transform:scaleX(1.0909);">2</div>
<div class="t" style="left:735.27px;top:487px;font-size:8.7px;color:#141414;transform:scaleX(1.0909);">3</div>
<div class="t" style="left:760.97px;top:487px;font-size:8.7px;color:#141414;transform:scaleX(1.0909);">4</div>
<div class="t" style="left:786.57px;top:487px;font-size:8.7px;color:#141414;transform:scaleX(1.0909);">5</div>
<div class="t" style="left:835.37px;top:487px;font-size:8.7px;color:#141414;transform:scaleX(1.0855);">15357</div>
<svg class="abs" style="left:807px;top:491px" width="16" height="6" viewBox="0 0 16 6"><circle cx="2.2" cy="3" r="1.2" fill="#999"/><circle cx="8" cy="3" r="1.2" fill="#999"/><circle cx="13.8" cy="3" r="1.2" fill="#999"/></svg>
<svg class="abs" style="left:0;top:516px" width="10" height="10" viewBox="0 0 10 10"><path d="M0 3.5A6.5 6.5 0 0 0 6.5 10H0Z" fill="#a3a3a3"/></svg>
<svg class="abs" style="left:916px;top:516px" width="10" height="10" viewBox="0 0 10 10"><path d="M10 3A7 7 0 0 1 3 10H10Z" fill="#111"/></svg>
</body>
</html>
